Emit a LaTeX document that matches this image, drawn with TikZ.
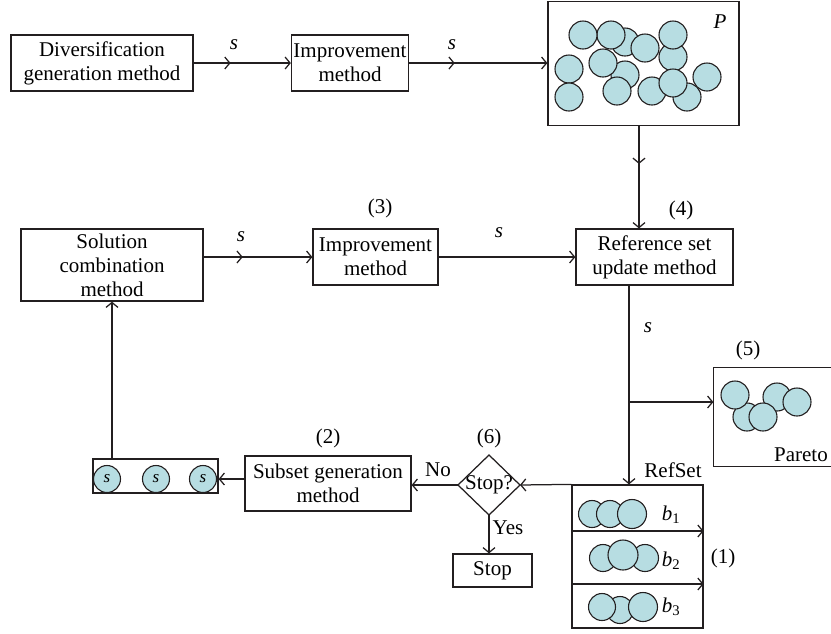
\documentclass[tikz,border=0pt]{standalone}
\usepackage{fontspec}
\setmainfont{Liberation Serif}
\usetikzlibrary{arrows.meta,decorations.markings}
\definecolor{ballfill}{RGB}{183,221,226}
\definecolor{ink}{RGB}{35,31,32}
\tikzset{
  >={Straight Barb[length=5pt,width=12pt]},
  box/.style={draw=ink, align=center, inner sep=0pt},
  ball/.style={draw=ink, fill=ballfill, line width=1.1pt},
  sball/.style={circle, draw=ink, fill=ballfill, line width=1.1pt, minimum size=27pt, inner sep=0pt, font=\fontsize{17}{17}\selectfont\itshape},
  midarr/.style={postaction={decorate}, decoration={markings, mark=at position #1 with {\arrow{>}}}},
  lbl/.style={inner sep=0pt},
}
\begin{document}
\begin{tikzpicture}[x=1pt,y=-1pt,font=\fontsize{21}{24}\selectfont,line width=1.25pt,draw=ink]
\useasboundingbox (0,0) rectangle (831,633);
% top row
\node[box, minimum width=182pt, minimum height=56pt] (div) at (102,63) {Diversification\\generation method};
\node[box, minimum width=117pt, minimum height=56pt] (imp1) at (350,63) {Improvement\\method};
\node[box, minimum width=191pt, minimum height=124pt] (pbox) at (643.5,63.5) {};
\node[lbl] (plab) at (720,22) {\textit{P}};
\foreach \cx/\cy in {625/42,611/35,583/35,645/48,673/57,673/35,625/75,603/63,617/91,569/69,569/97,687/97,652/91,673/83,707/77}
  \draw[ball] (\cx,\cy) circle (14);
\draw[->, midarr=0.38] (div) -- (imp1);
\node[lbl] (s1) at (234,45) {\textit{s}};
\draw[->, midarr=0.33] (imp1.east) -- (imp1.east -| pbox.west);
\node[lbl] (s2) at (452,45) {\textit{s}};
% second row
\node[box, minimum width=182pt, minimum height=72pt] (sol) at (112,265) {Solution\\combination\\method};
\node[box, minimum width=125pt, minimum height=56pt] (imp2) at (375.5,257) {Improvement\\method};
\node[box, minimum width=157pt, minimum height=56pt] (ref) at (654.5,257) {Reference set\\update method};
\node[lbl] (n3) at (380,208) {(3)};
\node[lbl] (n4) at (681,210) {(4)};
\coordinate (pline) at (639,0);
\draw[->, midarr=0.37] (pbox.south -| pline) -- (ref.north -| pline);
\draw[->, midarr=0.36] (sol.east |- imp2.west) -- (imp2.west);
\node[lbl] (s3) at (241,237) {\textit{s}};
\draw[->] (imp2) -- (ref);
\node[lbl] (s4) at (499,233) {\textit{s}};
% RefSet
\node[box, minimum width=131pt, minimum height=143pt] (refset) at (637.5,556.5) {};
\node[lbl] (rslab) at (673,470) {RefSet};
\coordinate (vline) at (629,0);
\draw[->] (ref.south -| vline) -- (refset.north -| vline);
\node[lbl] (s5) at (648,328) {\textit{s}};
\coordinate (br) at (629,402);
% Pareto
\node[minimum width=117pt, minimum height=98pt, inner sep=0pt] (par) at (772.5,417) {};
\draw (par.north east) -- (par.north west) -- (par.south west) -- (par.south east);
\draw[->] (br) -- (br -| par.west);
\node[lbl] (n5) at (748,350) {(5)};
\node[lbl] (parlab) at (801,455) {Pareto};
\foreach \cx/\cy in {747/417,777/397,735/395,797/402,763/417}
  \draw[ball] (\cx,\cy) circle (14);
% RefSet content
\coordinate (d1) at (0,531);
\coordinate (d2) at (0,584);
\draw[->] (refset.west |- d1) -- (refset.east |- d1);
\draw[->] (refset.west |- d2) -- (refset.east |- d2);
\foreach \cx/\cy/\r in {592/514/13.5,610/514/13.5,632/514/14.5,603/558/13.5,645/558/13.5,623/555/15,620/610/13.5,602/607/13.5,643/607/14.5}
  \draw[ball] (\cx,\cy) circle (\r);
\node[lbl] (b1) at (671,515) {\textit{b}\textsubscript{1}};
\node[lbl] (b2) at (671,561) {\textit{b}\textsubscript{2}};
\node[lbl] (b3) at (671,607) {\textit{b}\textsubscript{3}};
\node[lbl] (n1) at (723,558) {(1)};
% Stop diamond
\node[lbl] (stopq) at (489,485) {Stop?};
\coordinate (dT) at (489,455);
\coordinate (dB) at (489,515);
\coordinate (dL) at (458,485);
\coordinate (dR) at (520,485);
\draw (dT) -- (dR) -- (dB) -- (dL) -- cycle;
\node[lbl] (n6) at (489,438) {(6)};
\draw[->] (refset.north west) -- (dR);
\node[box, minimum width=79pt, minimum height=33pt] (stop) at (492.5,570.5) {Stop};
\draw[->] (dB) -- (dB |- stop.north);
\node[lbl] (yes) at (508,528) {Yes};
% Subset
\node[box, minimum width=166pt, minimum height=55pt] (sub) at (328,483.5) {Subset generation\\method};
\node[lbl] (n2) at (328,438) {(2)};
\draw[->] (dL) -- (sub.east |- dL);
\node[lbl] (no) at (438,470) {No};
% s-box
\node[box, minimum width=125pt, minimum height=34pt] (sbox) at (155.5,476) {};
\node[sball] (c1) at (107,479) {s};
\node[sball] (c2) at (156,479) {s};
\node[sball] (c3) at (203,479) {s};
\draw[->] (sub.west |- c3) -- (sbox.east |- c3);
\draw[->] (sbox.north -| sol.south) -- (sol.south);
\end{tikzpicture}
\end{document}
